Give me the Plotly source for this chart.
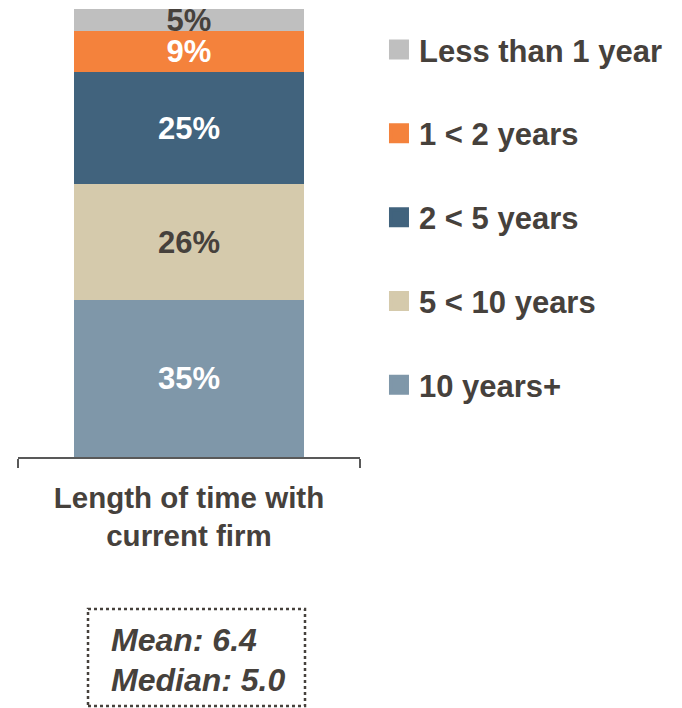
import plotly.graph_objects as go

# Tenure distribution (share of respondents, %)
categories = ["Less than 1 year", "1 < 2 years", "2 < 5 years", "5 < 10 years", "10 years+"]
shares = [5, 9, 25, 26, 35]
colors = ["#BFBFBF", "#F4823C", "#41637D", "#D5CAAC", "#7F97A9"]
label_colors = ["#46413C", "#FFFFFF", "#FFFFFF", "#46413C", "#FFFFFF"]
axis_label = "Length of time with<br>current firm"
stats_lines = ["Mean: 6.4", "Median: 5.0"]

FONT = "Liberation Sans, Arial, sans-serif"
DARK = "#46413C"

fig = go.Figure()

# Stacked segments, drawn bottom-up (longest tenure at the base)
for name, val, col, tcol in reversed(list(zip(categories, shares, colors, label_colors))):
    fig.add_trace(go.Bar(
        x=[0], y=[val], name=name, width=0.6725,
        marker=dict(color=col, line=dict(width=0)),
        text=[f"{val}%"], textposition="inside", insidetextanchor="middle",
        constraintext="none", textangle=0, cliponaxis=False,
        textfont=dict(family=FONT, size=31, color=tcol, weight="bold"),
        showlegend=False, hoverinfo="skip",
    ))

# Legend entries with larger square swatches
for i, (name, col) in enumerate(zip(categories, colors)):
    fig.add_trace(go.Scatter(
        x=[None], y=[None], mode="markers", name=name,
        legendgroup=f"g{i}",
        marker=dict(symbol="square", size=16, color=col, line=dict(color=col, width=4)),
    ))

fig.update_layout(
    width=682, height=708,
    margin=dict(l=18, r=322, t=9, b=251),
    paper_bgcolor="white", plot_bgcolor="white",
    barmode="stack", bargap=0,
    font=dict(family=FONT, color=DARK, size=30),
    showlegend=True,
    legend=dict(
        x=1.0555, y=0.969, xanchor="left", yanchor="top",
        traceorder="grouped", tracegroupgap=40.5,
        font=dict(family=FONT, size=31, color=DARK, weight="bold"),
        bgcolor="rgba(0,0,0,0)", itemclick=False,
    ),
    xaxis=dict(
        range=[-0.5, 0.5], showgrid=False, zeroline=False,
        showline=True, linecolor="#595959", linewidth=2,
        tickmode="array", tickvals=[-0.5, 0.5], ticktext=["", ""],
        ticks="outside", ticklen=9, tickwidth=2, tickcolor="#595959",
        title=dict(text=axis_label, standoff=14,
                   font=dict(family=FONT, size=29.5, color=DARK, weight="bold")),
    ),
    yaxis=dict(range=[0, 100], visible=False),
)

# Summary statistics box
fig.add_shape(type="rect", xref="paper", yref="paper",
              x0=0.2047, x1=0.8392, y0=-0.5558, y1=-0.3393,
              line=dict(color=DARK, width=2.5, dash="dot"),
              fillcolor="rgba(0,0,0,0)")
for txt, yy in zip(stats_lines, [-0.4085, -0.4978]):
    fig.add_annotation(xref="paper", yref="paper", x=0.266, y=yy,
                       xanchor="left", yanchor="middle", showarrow=False,
                       text=txt,
                       font=dict(family=FONT, size=32, color=DARK,
                                 weight="bold", style="italic"))

fig.write_html("out.html")
